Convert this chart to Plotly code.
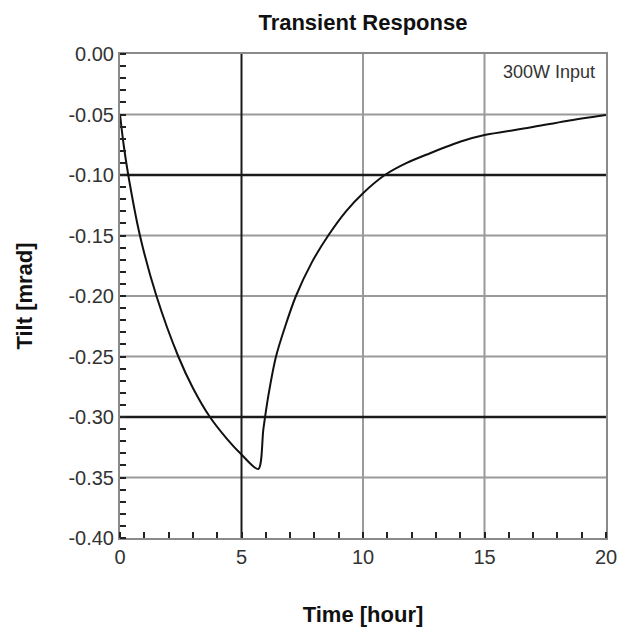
import plotly.graph_objects as go

# Tilt response of the mount to a 300 W heat input (hours vs. mrad)
time_hr = [0.0, 0.15, 0.34, 0.82, 1.50, 2.40, 3.0, 3.70, 4.4, 5.0, 5.69,
           5.90, 6.10, 6.42, 6.80, 7.24, 7.90, 8.57, 9.30, 10.0, 10.9, 11.8,
           12.76, 13.99, 15.0, 16.87, 18.38, 20.0]
tilt_mrad = [-0.050, -0.075, -0.100, -0.150, -0.200, -0.250, -0.276, -0.300,
             -0.318, -0.331, -0.343, -0.310, -0.283, -0.250, -0.225, -0.200,
             -0.172, -0.150, -0.130, -0.115, -0.100, -0.090, -0.082, -0.0725,
             -0.067, -0.0608, -0.0553, -0.0504]

x_ticks = [0, 5, 10, 15, 20]
x_ticktext = ["0", "5", "10", "15", "20"]
y_ticks = [0.0, -0.05, -0.10, -0.15, -0.20, -0.25, -0.30, -0.35, -0.40]
y_ticktext = ["0.00", "-0.05", "-0.10", "-0.15", "-0.20", "-0.25", "-0.30",
              "-0.35", "-0.40"]

# grid lines drawn heavier than the rest
dark_x = [5]
dark_y = [-0.10, -0.30]

FONT = "Liberation Sans, Arial, sans-serif"
GRID = "#9a9a9a"
DARK = "#1a1a1a"

fig = go.Figure()
fig.add_trace(go.Scatter(
    x=time_hr, y=tilt_mrad, mode="lines",
    line=dict(color="#111111", width=2, shape="spline", smoothing=0.8),
    showlegend=False, hoverinfo="skip",
))

# light grid first, heavy lines on top of it, all beneath the curve
for xv in x_ticks[1:-1]:
    if xv not in dark_x:
        fig.add_shape(type="line", xref="x", yref="paper", x0=xv, x1=xv, y0=0, y1=1,
                      line=dict(color=GRID, width=2), layer="below")
for yv in y_ticks[1:-1]:
    if yv not in dark_y:
        fig.add_shape(type="line", xref="paper", yref="y", x0=0, x1=1, y0=yv, y1=yv,
                      line=dict(color=GRID, width=2), layer="below")
for xv in dark_x:
    fig.add_shape(type="line", xref="x", yref="paper", x0=xv, x1=xv, y0=0, y1=1,
                  line=dict(color=DARK, width=2), layer="below")
for yv in dark_y:
    fig.add_shape(type="line", xref="paper", yref="y", x0=0, x1=1, y0=yv, y1=yv,
                  line=dict(color=DARK, width=2.5), layer="below")

fig.add_annotation(
    text="300W Input", xref="paper", yref="paper", x=0.982, y=0.962,
    xanchor="right", yanchor="middle", showarrow=False,
    font=dict(family=FONT, size=18, color="#333333"),
)

axis_common = dict(
    showgrid=False, automargin=False,
    showline=True, linecolor="#8a8a8a", linewidth=2, mirror=True,
    zeroline=False, ticks="", tickfont=dict(family=FONT, size=20, color="#333333"),
)

fig.update_xaxes(
    range=[0, 20], tickmode="array", tickvals=x_ticks, ticktext=x_ticktext,
    minor=dict(dtick=1, tick0=0, ticks="inside", ticklen=6, tickcolor="#222222",
               tickwidth=1.5, showgrid=False),
    title=dict(text="Time [hour]", font=dict(family=FONT, size=22, color="#111111",
                                               weight="bold"), standoff=40),
    **axis_common,
)
fig.update_yaxes(
    range=[-0.40, 0.0], tickmode="array", tickvals=y_ticks, ticktext=y_ticktext,
    minor=dict(dtick=0.01, tick0=0, ticks="inside", ticklen=6, tickcolor="#222222",
               tickwidth=1.5, showgrid=False),
    title=dict(text="Tilt [mrad]", font=dict(family=FONT, size=22, color="#111111",
                                               weight="bold"), standoff=30),
    **axis_common,
)

fig.update_layout(
    width=623, height=632,
    margin=dict(l=120, r=17, t=54, b=94),
    paper_bgcolor="white", plot_bgcolor="white",
    title=dict(text="Transient Response", x=0.5826, xanchor="center", y=0.965,
               yanchor="middle",
               font=dict(family=FONT, size=22, color="#111111", weight="bold")),
)

fig.write_html("out.html")
